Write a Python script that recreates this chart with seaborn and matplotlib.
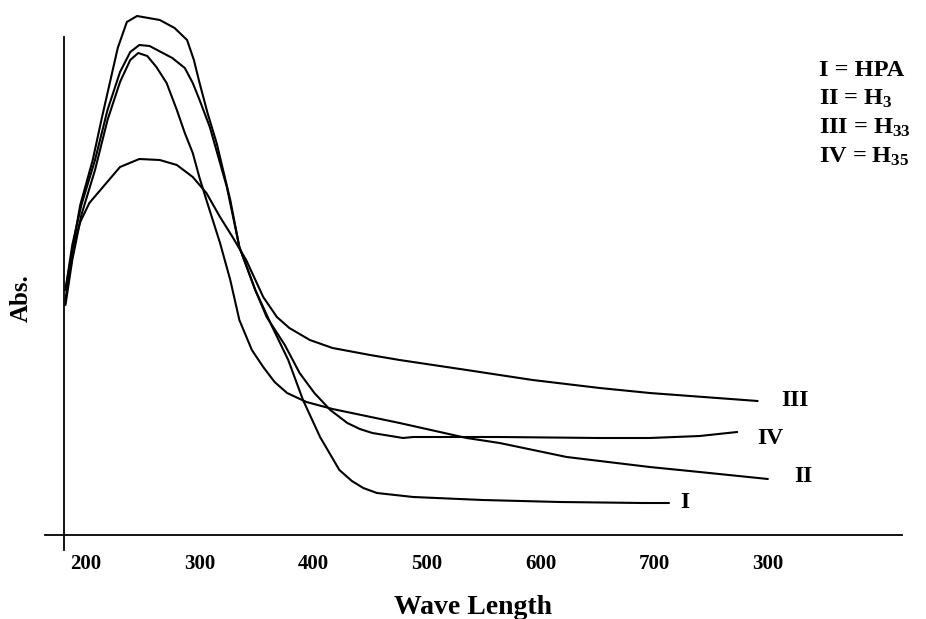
import matplotlib
matplotlib.use("Agg")
import matplotlib.pyplot as plt
import seaborn as sns
import pandas as pd

# UV-vis spectra (wavelength, arbitrary absorbance)
wl_I = [182, 188, 195, 206, 214, 221, 228, 236, 245, 265, 278, 289, 295, 300, 307, 315,
        327, 335, 349, 364, 378, 391, 406, 423, 434, 444, 456, 488, 549, 617, 690, 713]
abs_I = [2.35, 2.85, 3.30, 3.75, 4.17, 4.52, 4.87, 5.13, 5.19, 5.15, 5.07, 4.95, 4.75, 4.52, 4.22, 3.92,
         3.35, 2.88, 2.45, 2.08, 1.75, 1.35, 0.98, 0.65, 0.54, 0.47, 0.42, 0.38, 0.35, 0.33, 0.32, 0.32]

wl_II = [182, 188, 196, 208, 219, 230, 239, 246, 254, 262, 271, 280, 287, 294, 300, 306,
         318, 327, 335, 346, 356, 366, 377, 394, 417, 476, 535, 564, 623, 696, 740, 800]
abs_II = [2.30, 2.75, 3.20, 3.65, 4.15, 4.53, 4.75, 4.82, 4.79, 4.68, 4.52, 4.25, 4.02, 3.82, 3.57, 3.35,
          2.92, 2.55, 2.15, 1.85, 1.68, 1.53, 1.42, 1.33, 1.26, 1.12, 0.97, 0.92, 0.78, 0.68, 0.63, 0.56]

wl_III = [182, 188, 195, 203, 215, 230, 247, 265, 280, 294, 306, 318, 329, 341, 356, 368,
          379, 397, 417, 450, 476, 535, 593, 652, 696, 791]
abs_III = [2.45, 2.85, 3.13, 3.32, 3.48, 3.68, 3.76, 3.75, 3.70, 3.58, 3.42, 3.18, 2.98, 2.75, 2.38, 2.18,
           2.07, 1.95, 1.87, 1.80, 1.75, 1.65, 1.55, 1.47, 1.42, 1.34]

wl_IV = [182, 188, 196, 208, 219, 230, 239, 247, 256, 276, 287, 294, 300, 309, 316, 324, 335,
         349, 359, 375, 388, 401, 415, 430, 441, 452, 479, 488, 564, 652, 696, 740, 773]
abs_IV = [2.45, 2.90, 3.30, 3.75, 4.25, 4.63, 4.83, 4.90, 4.89, 4.77, 4.67, 4.52, 4.35, 4.08, 3.80, 3.48, 2.88,
          2.45, 2.18, 1.90, 1.62, 1.42, 1.25, 1.12, 1.06, 1.02, 0.97, 0.98, 0.98, 0.97, 0.97, 0.99, 1.03]

curve_names = ["I", "II", "III", "IV"]
tick_values = [200, 300, 400, 500, 600, 700, 800]
tick_labels = ["200", "300", "400", "500", "600", "700", "300"]
legend_lines = ["I = HPA", "II = $\\mathregular{H_3}$", "III = $\\mathregular{H_{33}}$", "IV = $\\mathregular{H_{35}}$"]

frames = []
for name, x, y in zip(curve_names, [wl_I, wl_II, wl_III, wl_IV], [abs_I, abs_II, abs_III, abs_IV]):
    frames.append(pd.DataFrame({"wl": x, "abs": y, "curve": name}))
df = pd.concat(frames, ignore_index=True)

sns.set_theme(style="white")
plt.rcParams["font.family"] = ["Liberation Serif", "DejaVu Serif"]
plt.rcParams["mathtext.fontset"] = "custom"
plt.rcParams["mathtext.rm"] = "Liberation Serif:bold"
plt.rcParams["text.color"] = "black"
plt.rcParams["axes.labelcolor"] = "black"
plt.rcParams["xtick.color"] = "black"

fig = plt.figure(figsize=(9.26, 6.19), dpi=100)
ax = fig.add_axes([45 / 926, 69 / 619, 857 / 926, 540 / 619])

sns.lineplot(data=df, x="wl", y="abs", hue="curve", units="curve", estimator=None,
             palette=["black"] * 4, linewidth=1.5, legend=False, ax=ax, sort=True)

ax.set_xlim(164, 918)
ax.set_ylim(-0.15, 5.25)

for s in ["top", "right"]:
    ax.spines[s].set_visible(False)
ax.spines["left"].set_position(("data", 181))
ax.spines["left"].set_bounds(-0.15, 4.98)
ax.spines["bottom"].set_position(("data", 0))
for s in ["left", "bottom"]:
    ax.spines[s].set_color("black")
    ax.spines[s].set_linewidth(1.3)

ax.set_xticks(tick_values)
ax.set_xticklabels(tick_labels, fontsize=15, fontweight="bold", color="black")
ax.tick_params(axis="x", direction="inout", length=3, width=1, colors="black", pad=12)
ax.set_yticks([])

ax.set_xlabel("Wave Length", fontsize=20, fontweight="bold", color="black")
ax.xaxis.set_label_coords(0.5, -0.083)
ax.set_ylabel("Abs.", fontsize=18, fontweight="bold", color="black")
ax.yaxis.set_label_coords(-0.014, 0.467)

# curve labels at the line ends
end_labels = {"III": (824, 1.34), "IV": (802, 0.97), "II": (831, 0.58), "I": (727, 0.33)}
for name, (x, y) in end_labels.items():
    ax.text(x, y, name, fontsize=17, fontweight="bold", ha="center", va="center", color="black")

for i, line in enumerate(legend_lines):
    ax.text(845, 4.65 - i * 0.29, line, fontsize=17.5, fontweight="bold", ha="left", va="center",
            color="black")

fig.savefig("out.png", dpi=100)
